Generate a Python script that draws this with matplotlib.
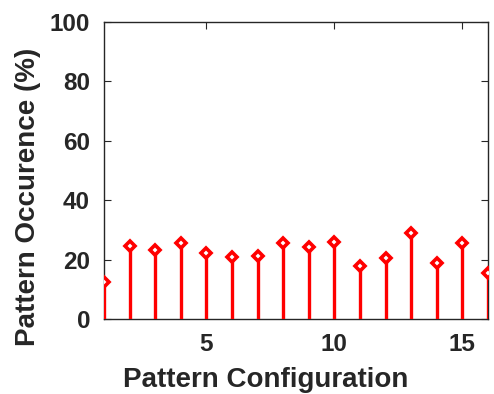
import matplotlib.pyplot as plt

# occurrence of each pattern configuration (%)
configs = list(range(1, 17))
occurrence = [12.6, 24.5, 23.1, 25.7, 22.2, 20.9, 21.2, 25.5,
              24.3, 25.9, 17.9, 20.6, 28.9, 19.0, 25.5, 15.4]

plt.rcParams['font.family'] = ['Liberation Sans', 'DejaVu Sans']
plt.rcParams['font.weight'] = 'bold'

fig = plt.figure(figsize=(4.94, 3.94), dpi=100)
ax = fig.add_axes([104/494, 75/394, 384/494, 297/394])

markerline, stemlines, baseline = ax.stem(configs, occurrence, basefmt=' ')
plt.setp(stemlines, color='red', linewidth=2.4)
plt.setp(markerline, marker='D', markersize=5.5, markerfacecolor='white',
         markeredgecolor='red', markeredgewidth=2.6, color='red')
stemlines.set_zorder(3)
markerline.set_zorder(4)

ax.set_xlim(1, 16)
ax.set_ylim(0, 100)
ax.set_xticks([5, 10, 15])
ax.set_yticks([0, 20, 40, 60, 80, 100])

dark = '#262626'
for s in ax.spines.values():
    s.set_color(dark)
    s.set_linewidth(1.0)
ax.tick_params(direction='in', top=True, right=True, length=5, width=0.8,
               color=dark, labelcolor=dark, labelsize=17.5)
ax.tick_params(axis='y', pad=10)
ax.tick_params(axis='x', pad=10)

ax.set_xlabel('Pattern Configuration', fontsize=20, fontweight='bold', color=dark, labelpad=8)
ax.set_ylabel('Pattern Occurence (%)', fontsize=20, fontweight='bold', color=dark, labelpad=6)
# labels sit off-centre, toward the lower left
ax.xaxis.label.set_x(0.42)
ax.yaxis.label.set_y(0.41)

fig.savefig('out.png', dpi=100)
